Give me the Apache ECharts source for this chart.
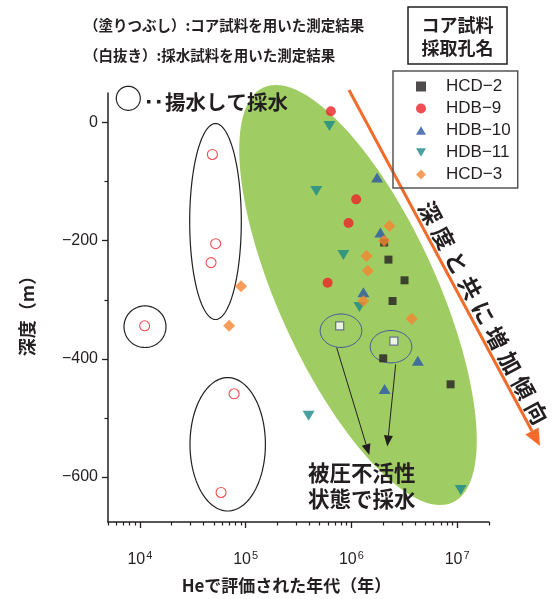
<!DOCTYPE html>
<html>
<head>
<meta charset="utf-8">
<script src="https://cdn.jsdelivr.net/npm/echarts@6/dist/echarts.min.js"></script>
<style>
html, body { margin: 0; padding: 0; background: #fff; }
#main { width: 553px; height: 599px; }
</style>
</head>
<body>
<div id="main"></div>
<script>
// He年代(年) と 深度(m) — 図から読み取った値
// コア試料（塗りつぶし）
const hcd2Age = [2.04e6, 2.24e6, 3.18e6, 2.45e6, 2.0e6, 8.67e6];
const hcd2Depth = [-203, -232, -267, -302, -399, -443];
const hdb9Age = [6.4e5, 1.11e6, 9.4e5, 5.96e5];
const hdb9Depth = [19, -130, -170, -271];
const hdb10Age = [1.75e6, 1.88e6, 1.30e6, 4.25e6, 2.06e6];
const hdb10Depth = [-93, -186, -287, -403, -451];
const hdb11Age = [6.2e5, 4.66e5, 8.4e5, 1.19e6, 3.94e5, 1.08e7];
const hdb11Depth = [-6, -116, -224, -312, -496, -622];
const hcd3Age = [2.29e6, 2.04e6, 1.39e6, 1.43e6, 1.30e6, 3.71e6, 9.06e4, 6.98e4];
const hcd3Depth = [-175, -200, -226, -251, -302, -332, -277, -344];
// 採水試料（白抜き）
const hdb9WaterAge = [4.85e4, 5.21e4, 4.71e4, 1.11e4, 7.78e4, 5.86e4];
const hdb9WaterDepth = [-54, -205, -237, -344, -459, -626];
const hcd2WaterAge = [7.75e5, 2.52e6];
const hcd2WaterDepth = [-344, -370];

// 軸の目盛
const xDecades = [4, 5, 6, 7];           // 10^n
const yMajorTicks = [0, -200, -400, -600];
const yMinorTicks = [-100, -300, -500];
const seriesNames = ['HCD-2', 'HDB-9', 'HDB-10', 'HDB-11', 'HCD-3'];

const xMin = 5000, xMax = 2e7;
const yMin = -676, yMax = 50;

const JP = "'Noto Sans CJK JP', sans-serif";
const INK = '#231f20';

const xMinor = [];
for (let k = 3; k <= 7; k++) {
  for (let m = 2; m <= 9; m++) {
    const v = m * Math.pow(10, k);
    if (v >= xMin && v <= xMax) xMinor.push(Math.log10(v));
  }
}

const zip = (a, b) => a.map((v, i) => [v, b[i]]);

const chart = echarts.init(document.getElementById('main'));

// 注記用の図形
function ellipse(cx, cy, rx, ry, deg, stroke, fill, lw, z) {
  const pts = [];
  const t = deg * Math.PI / 180;
  for (let i = 0; i < 120; i++) {
    const a = i / 120 * 2 * Math.PI;
    const x = rx * Math.cos(a), y = ry * Math.sin(a);
    pts.push([cx + x * Math.cos(t) - y * Math.sin(t), cy + x * Math.sin(t) + y * Math.cos(t)]);
  }
  return {
    type: 'polygon', z: z || 1, silent: true,
    shape: { points: pts },
    style: { fill: fill || 'none', stroke: stroke || 'none', lineWidth: lw || 1 }
  };
}
function arrow(x1, y1, x2, y2, color, lw, headLen, headHalf) {
  const len = Math.hypot(x2 - x1, y2 - y1);
  const ux = (x2 - x1) / len, uy = (y2 - y1) / len;
  const bx = x2 - ux * headLen, by = y2 - uy * headLen;
  const px = -uy * headHalf, py = ux * headHalf;
  return [
    { type: 'line', z: 1, silent: true, shape: { x1, y1, x2: bx, y2: by }, style: { stroke: color, lineWidth: lw } },
    { type: 'polygon', z: 1, silent: true, shape: { points: [[x2, y2], [bx + px, by + py], [bx - px, by - py]] }, style: { fill: color } }
  ];
}

const graphics = [];
graphics.push(ellipse(358, 295, 228, 79, 65.5, null, '#a0cd63', 1, 0));
graphics.push(ellipse(215.5, 221.5, 25.8, 98, 0, INK, null, 1.2));
graphics.push(ellipse(145, 326.7, 21, 20.8, 0, INK, null, 1.2));
graphics.push(ellipse(227.7, 444.3, 37.7, 66.7, 0, INK, null, 1.2));
graphics.push(ellipse(128.3, 98.3, 12, 12, 0, INK, null, 1.2));
graphics.push(ellipse(341, 330.7, 20.8, 16.7, 0, '#3b50a0', null, 1));
graphics.push(ellipse(391, 346.7, 20.8, 16.2, 0, '#3b50a0', null, 1));
graphics.push(...arrow(336.7, 347.7, 369.3, 455, INK, 1, 11, 4.5));
graphics.push(...arrow(395.7, 364.3, 387.3, 446.5, INK, 1, 11, 4.5));
graphics.push(...arrow(349, 90, 540, 446, '#f26b2b', 3, 17, 7.5));

// テキスト
function txt(x, y, text, size, opts) {
  return Object.assign({
    type: 'text', x, y, z: 1, silent: true,
    style: Object.assign({
      text, fill: INK, font: (opts && opts.weight || 'bold') + ' ' + size + 'px ' + JP,
      textAlign: 'left', textVerticalAlign: 'middle'
    }, opts && opts.style)
  }, opts && opts.el);
}
graphics.push(txt(84, 25, '（塗りつぶし）:コア試料を用いた測定結果', 14.5));
graphics.push(txt(84, 55, '（白抜き）:採水試料を用いた測定結果', 14.5));
graphics.push({
  type: 'rect', z: 1, silent: true, shape: { x: 408, y: 7, width: 99, height: 57 },
  style: { fill: 'none', stroke: INK, lineWidth: 1.5 }
});
graphics.push(txt(457.5, 25, 'コア試料', 18, { style: { textAlign: 'center' } }));
graphics.push(txt(457.5, 48, '採取孔名', 18, { style: { textAlign: 'center' } }));
// 「・・」
graphics.push({ type: 'rect', z: 1, silent: true, shape: { x: 147, y: 100, width: 3.5, height: 3.5 }, style: { fill: INK } });
graphics.push({ type: 'rect', z: 1, silent: true, shape: { x: 157, y: 100, width: 3.5, height: 3.5 }, style: { fill: INK } });
graphics.push(txt(165, 102, '揚水して採水', 20.5));
graphics.push(txt(308, 473, '被圧不活性', 21.5));
graphics.push(txt(308, 499, '状態で採水', 21.5));

const slope = '深度と共に増加傾向';
const ang = 61.9 * Math.PI / 180;
for (let i = 0; i < slope.length; i++) {
  graphics.push(txt(430 + i * 28.3 * Math.cos(ang), 213 + i * 28.3 * Math.sin(ang), slope[i], 22.5, {
    style: { textAlign: 'center' }, el: { rotation: -ang }
  }));
}

const minus = v => String(v).replace('-', '\u2212');
const legendIcons = {
  'HCD-2': 'path://M0,0L8,0L8,8L0,8Z',
  'HDB-9': 'circle',
  'HDB-10': 'path://M6,0L12,10L0,10Z',
  'HDB-11': 'path://M0,0L12,0L6,10Z',
  'HCD-3': 'diamond'
};

const option = {
  animation: false,
  textStyle: { fontFamily: 'Liberation Sans', color: INK },
  grid: { left: 108, right: 64, top: 93, bottom: 69 },
  legend: {
    data: seriesNames.map(n => ({ name: n, icon: legendIcons[n] })),
    orient: 'vertical',
    left: 393, top: 71,
    padding: [7, 7, 5, 23],
    itemWidth: 10, itemHeight: 10, itemGap: 5,
    borderColor: '#555', borderWidth: 1.5,
    formatter: minus,
    textStyle: { fontFamily: 'Liberation Sans', fontSize: 17, lineHeight: 16, color: INK, padding: [0, 0, 0, 15] }
  },
  xAxis: [
    {
      type: 'log', logBase: 10, min: xMin, max: xMax, position: 'bottom',
      name: 'Heで評価された年代（年）', nameLocation: 'middle', nameGap: 55,
      nameTextStyle: { fontFamily: JP, fontSize: 17, fontWeight: 'bold', color: INK, padding: [0, 24, 0, 0] },
      axisLine: { onZero: false, lineStyle: { color: INK, width: 1.5 } },
      axisTick: { show: false }, axisLabel: { show: false }, splitLine: { show: false }
    },
    {
      type: 'value', min: Math.log10(xMin), max: Math.log10(xMax), position: 'bottom',
      axisLine: { show: false, onZero: false },
      axisTick: { customValues: xDecades, length: 6, lineStyle: { color: INK, width: 1.3 } },
      axisLabel: {
        customValues: xDecades, margin: 28,
        formatter: v => '{b|10}{e|' + v + '}',
        rich: {
          b: { fontFamily: 'Liberation Sans', fontSize: 16, color: INK },
          e: { fontFamily: 'Liberation Sans', fontSize: 11, color: INK, padding: [0, 0, 9, 1] }
        }
      },
      splitLine: { show: false }
    },
    {
      type: 'value', min: Math.log10(xMin), max: Math.log10(xMax), position: 'bottom',
      axisLine: { show: false, onZero: false },
      axisTick: { customValues: xMinor, length: 3.5, lineStyle: { color: INK, width: 1.2 } },
      axisLabel: { show: false }, splitLine: { show: false }
    }
  ],
  yAxis: [
    {
      type: 'value', min: yMin, max: yMax, position: 'left',
      name: '深度（m）', nameLocation: 'middle', nameGap: 72, nameRotate: 90,
      nameTextStyle: { fontFamily: JP, fontSize: 18, fontWeight: 'bold', color: INK, padding: [0, 8, 0, 0] },
      axisLine: { onZero: false, lineStyle: { color: INK, width: 1.5 } },
      axisTick: { customValues: yMajorTicks, length: 6, lineStyle: { color: INK, width: 1.3 } },
      axisLabel: { customValues: yMajorTicks, margin: 10, fontSize: 16, color: INK, formatter: minus },
      splitLine: { show: false }
    },
    {
      type: 'value', min: yMin, max: yMax, position: 'left',
      axisLine: { show: false, onZero: false },
      axisTick: { customValues: yMinorTicks, length: 3.5, lineStyle: { color: INK, width: 1.2 } },
      axisLabel: { show: false }, splitLine: { show: false }
    }
  ],
  series: [
    { name: 'HCD-2', type: 'scatter', symbol: 'rect', symbolSize: 8, itemStyle: { color: INK }, data: zip(hcd2Age, hcd2Depth) },
    { name: 'HDB-9', type: 'scatter', symbol: 'circle', symbolSize: 10, itemStyle: { color: '#ec2227' }, data: zip(hdb9Age, hdb9Depth) },
    { name: 'HDB-10', type: 'scatter', symbol: 'triangle', symbolSize: [12, 10], itemStyle: { color: '#2b58a6' }, data: zip(hdb10Age, hdb10Depth) },
    { name: 'HDB-11', type: 'scatter', symbol: 'triangle', symbolRotate: 180, symbolSize: [12, 10], itemStyle: { color: '#1a8a86' }, data: zip(hdb11Age, hdb11Depth) },
    { name: 'HCD-3', type: 'scatter', symbol: 'diamond', symbolSize: 12, itemStyle: { color: '#f58432' }, data: zip(hcd3Age, hcd3Depth) },
    { name: 'HDB-9 採水', type: 'scatter', symbol: 'circle', symbolSize: 10,
      itemStyle: { color: '#fff', borderColor: '#ec2227', borderWidth: 1.1 }, data: zip(hdb9WaterAge, hdb9WaterDepth) },
    { name: 'HCD-2 採水', type: 'scatter', symbol: 'rect', symbolSize: 8,
      itemStyle: { color: '#fff', borderColor: '#555a8c', borderWidth: 1.3 }, data: zip(hcd2WaterAge, hcd2WaterDepth) }
  ],
  graphic: graphics
};

chart.setOption(option);
</script>
</body>
</html>
